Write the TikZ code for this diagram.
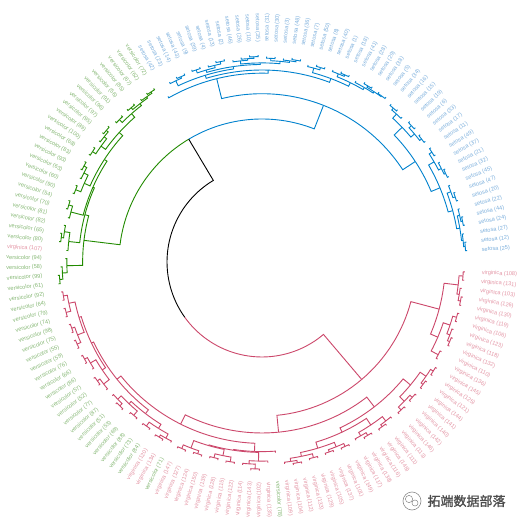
\documentclass[tikz,border=0pt]{standalone}
\usepackage{fontspec}
\newfontfamily\labfont{Liberation Sans}
\newfontfamily\cjkfont{Noto Sans CJK SC}[FakeBold=1.2]
\definecolor{seto}{HTML}{7DB0DD}
\definecolor{vers}{HTML}{86B875}
\definecolor{virg}{HTML}{E495A5}
\definecolor{cred}{HTML}{CC476B}
\definecolor{cgreen}{HTML}{228B00}
\definecolor{cblue}{HTML}{0082CE}

\tikzset{
  branch/.style={line width=0.9pt}, % 树枝
  lab/.style={font=\labfont\fontsize{5.6}{6}\selectfont, inner sep=0pt}, % 叶子标签
  logo text/.style={font=\cjkfont\fontsize{13}{14}\selectfont, text=black!70} % 水印
}

\newcount\leafno
\def\brcol{black}
% 叶子: #1 = 行号
\newcommand\dleaf[1]{%
  \global\advance\leafno by 1
  \pgfmathsetmacro\la{-2.8-(\the\leafno-1)*2.376}%
  \ifnum#1>100 \def\lcol{virg}\def\irisname{virginica}%
  \else\ifnum#1>50 \def\lcol{vers}\def\irisname{versicolor}%
  \else\def\lcol{seto}\def\irisname{setosa}\fi\fi
  \ifdim\la pt>-90pt \def\lside{1}\else\ifdim\la pt<-270pt \def\lside{1}\else\def\lside{0}\fi\fi
  \if1\lside
    \node[lab, text=\lcol, anchor=west, rotate=\la] (l\the\leafno) at (\la:220) {\irisname\ (#1)};
  \else
    \node[lab, text=\lcol, anchor=east, rotate=\la+180] (l\the\leafno) at (\la:220) {\irisname\ (#1)};
  \fi
  \xdef\retx{\la}\xdef\reth{-1}\xdef\retc{\brcol}%
}
% 内部结点: #1 = 高度, #2 左子树, #3 右子树
\newcommand\dnode[3]{%
  \begingroup
  #2\let\xa\retx\let\ha\reth\let\ca\retc
  #3\let\xb\retx\let\hb\reth\let\cb\retc
  \pgfmathsetmacro\rr{207-15.8*#1}%
  \ifdim\ha pt<0pt \pgfmathsetmacro\ra{207-15.8*(#1-0.1)}\else\pgfmathsetmacro\ra{207-15.8*\ha}\fi
  \ifdim\hb pt<0pt \pgfmathsetmacro\rb{207-15.8*(#1-0.1)}\else\pgfmathsetmacro\rb{207-15.8*\hb}\fi
  \pgfmathsetmacro\xm{(\xa+\xb)/2}%
  \draw[branch, draw=\ca] (\xa:\ra) -- (\xa:\rr) arc[start angle=\xa, end angle=\xm, radius=\rr pt];
  \draw[branch, draw=\cb] (\xb:\rb) -- (\xb:\rr) arc[start angle=\xb, end angle=\xm, radius=\rr pt];
  \xdef\retx{\xm}\xdef\reth{#1}\xdef\retc{\brcol}%
  \endgroup
}
\newcommand\dtwo[3]{\dnode{#1}{\dleaf{#2}}{\dleaf{#3}}}
% 聚类颜色
\newcommand\dclus[2]{\begingroup\def\brcol{#1}#2\endgroup}

% virginica + 大 versicolor
\newcommand\tRa{\dnode{0.6}{\dtwo{0.35}{108}{131}}{\dnode{0.45}{\dleaf{103}}{\dtwo{0.3}{126}{130}}}}
\newcommand\tRb{\dnode{1.0}{\dnode{0.55}{\dtwo{0.3}{119}{106}}{\dnode{0.35}{\dleaf{123}}{\dtwo{0.2}{118}{132}}}}{\dtwo{0.5}{110}{136}}}
\newcommand\tRc{\dnode{0.9}{\dnode{0.45}{\dtwo{0.25}{145}{125}}{\dtwo{0.3}{121}{144}}}{\dnode{0.5}{\dtwo{0.3}{141}{140}}{\dtwo{0.25}{142}{146}}}}
\newcommand\tRd{\dnode{0.7}{\dnode{0.35}{\dleaf{113}}{\dtwo{0.2}{111}{148}}}{\dnode{0.45}{\dtwo{0.25}{116}{138}}{\dleaf{117}}}}
\newcommand\tRe{\dnode{0.8}{\dnode{0.5}{\dtwo{0.3}{149}{101}}{\dtwo{0.35}{137}{105}}}{\dnode{0.55}{\dtwo{0.3}{129}{133}}{\dnode{0.35}{\dtwo{0.2}{112}{104}}{\dleaf{109}}}}}
\newcommand\tRf{\dnode{1.1}{\dleaf{78}}{\dnode{1.05}{\dnode{0.5}{\dleaf{135}}{\dnode{0.3}{\dtwo{0.0}{102}{143}}{\dleaf{114}}}}{\tRg}}}
\newcommand\tRg{\dnode{1.0}{\dnode{0.6}{\dtwo{0.3}{122}{115}}{\dtwo{0.35}{128}{139}}}{\dnode{0.5}{\dtwo{0.3}{150}{124}}{\dtwo{0.25}{127}{147}}}}
\newcommand\tRh{\dnode{0.7}{\dnode{0.4}{\dleaf{71}}{\dtwo{0.25}{134}{120}}}{\dtwo{0.4}{84}{73}}}
\newcommand\tRi{\dnode{0.8}{\dtwo{0.45}{88}{69}}{\dnode{0.5}{\dtwo{0.3}{53}{51}}{\dleaf{87}}}}
\newcommand\tRj{\dnode{0.9}{\dnode{0.45}{\dleaf{77}}{\dtwo{0.25}{52}{57}}}{\dnode{0.5}{\dleaf{86}}{\dtwo{0.3}{66}{76}}}}
\newcommand\tRk{\dnode{1.0}{\dnode{0.55}{\dtwo{0.3}{59}{55}}{\dtwo{0.35}{75}{98}}}{\dnode{0.6}{\dtwo{0.3}{74}{79}}{\dtwo{0.35}{64}{92}}}}
\newcommand\tRed{\dnode{3.35}{\dnode{1.5}{\tRa}{\tRb}}{\dnode{2.28}{\dnode{1.5}{\tRc}{\dnode{1.2}{\tRd}{\tRe}}}{\dnode{1.62}{\tRf}{\dnode{1.3}{\dnode{1.0}{\tRh}{\tRi}}{\dnode{1.15}{\tRj}{\tRk}}}}}}

% versicolor
\newcommand\tGa{\dnode{0.75}{\dnode{0.45}{\dtwo{0.25}{61}{99}}{\dleaf{58}}}{\dleaf{94}}}
\newcommand\tGb{\dnode{0.8}{\dleaf{107}}{\dnode{0.45}{\dtwo{0.3}{80}{65}}{\dleaf{82}}}}
\newcommand\tGbb{\dnode{0.6}{\dleaf{81}}{\dtwo{0.35}{70}{54}}}
\newcommand\tGc{\dnode{0.8}{\dtwo{0.45}{90}{60}}{\dnode{0.5}{\dleaf{63}}{\dtwo{0.3}{93}{83}}}}
\newcommand\tGd{\dnode{0.55}{\dtwo{0.3}{68}{100}}{\dnode{0.35}{\dleaf{89}}{\dtwo{0.2}{95}{97}}}}
\newcommand\tGe{\dnode{0.6}{\dtwo{0.35}{96}{91}}{\dnode{0.45}{\dtwo{0.3}{56}{85}}{\dnode{0.35}{\dleaf{67}}{\dtwo{0.25}{62}{72}}}}}
\newcommand\tGreen{\dnode{1.75}{\tGa}{\dnode{1.5}{\tGb}{\dnode{1.4}{\tGbb}{\dnode{1.2}{\tGc}{\dnode{0.9}{\tGd}{\tGe}}}}}}

% setosa
\newcommand\tSb{\dnode{0.45}{\dtwo{0.25}{9}{39}}{\dnode{0.3}{\dleaf{4}}{\dtwo{0.15}{13}{2}}}}
\newcommand\tSc{\dnode{0.5}{\dnode{0.3}{\dleaf{46}}{\dnode{0.2}{\dleaf{26}}{\dtwo{0.1}{10}{35}}}}{\dnode{0.35}{\dtwo{0.2}{31}{30}}{\dnode{0.25}{\dleaf{3}}{\dtwo{0.15}{48}{36}}}}}
\newcommand\tSd{\dnode{0.7}{\dnode{0.4}{\dleaf{7}}{\dtwo{0.25}{50}{8}}}{\dnode{0.45}{\dnode{0.25}{\dleaf{40}}{\dtwo{0.15}{1}{18}}}{\dnode{0.3}{\dleaf{41}}{\dnode{0.2}{\dtwo{0.1}{28}{29}}{\dtwo{0.15}{38}{5}}}}}}
\newcommand\tSe{\dnode{0.8}{\dnode{0.45}{\dtwo{0.3}{34}{16}}{\dleaf{15}}}{\dnode{0.5}{\dtwo{0.3}{19}{6}}{\dtwo{0.35}{33}{17}}}}
\newcommand\tSf{\dnode{0.5}{\dtwo{0.3}{11}{49}}{\dnode{0.3}{\dleaf{37}}{\dtwo{0.2}{21}{32}}}}
\newcommand\tSg{\dnode{0.6}{\dnode{0.35}{\dleaf{45}}{\dtwo{0.2}{47}{20}}}{\dnode{0.4}{\dnode{0.25}{\dleaf{22}}{\dtwo{0.15}{44}{24}}}{\dnode{0.3}{\dleaf{27}}{\dtwo{0.2}{12}{25}}}}}
\newcommand\tBlue{\dnode{2.45}{\dnode{1.15}{\dleaf{42}}{\dnode{0.95}{\dnode{0.75}{\dnode{0.4}{\dleaf{23}}{\dtwo{0.3}{14}{43}}}{\dnode{0.6}{\tSb}{\tSc}}}{\tSd}}}{\dnode{1.5}{\tSe}{\dnode{0.9}{\tSf}{\tSg}}}}

\begin{document}
\begin{tikzpicture}[x=1pt, y=1pt]
  \fill[white] (-262,-263) rectangle (263,262);
  \useasboundingbox (-262,-263) rectangle (263,262);

  \dnode{7.09}{\dclus{cred}{\tRed}}{\dnode{4.05}{\dclus{cgreen}{\tGreen}}{\dclus{cblue}{\tBlue}}}

  % 水印
  \draw[black!45, line width=0.6pt] (150,-239) circle (9);
  \draw[black!45, line width=0.5pt] (147,-237) circle (3.6) (153,-241) circle (3);
  \node[logo text, anchor=west] (logo) at (162,-239) {拓端数据部落};
\end{tikzpicture}
\end{document}
